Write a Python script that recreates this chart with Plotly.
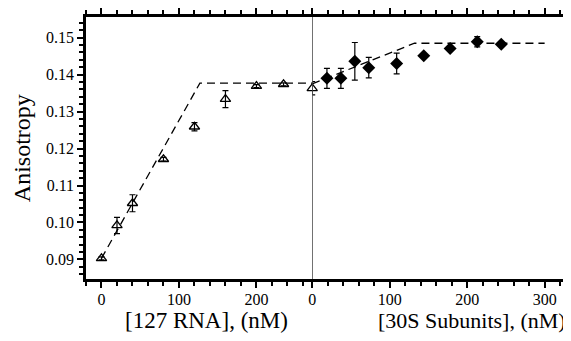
import plotly.graph_objects as go

# ---- data ----
rna_x = [0, 20, 40, 80, 120, 160, 200, 235]
rna_y = [0.0903, 0.0992, 0.1052, 0.1171, 0.1259, 0.1334, 0.1369, 0.1374]
rna_err = [0.0004, 0.0022, 0.0023, 0.0005, 0.0011, 0.0023, 0.0004, 0.0004]

start_x = [0]
start_y = [0.1363]
start_err = [0.0018]

s30_x = [19, 37, 55, 73, 109, 144, 178, 213, 244]
s30_y = [0.1390, 0.1390, 0.1436, 0.1419, 0.1430, 0.1451, 0.1471, 0.1489, 0.1482]
s30_err = [0.0027, 0.0027, 0.0051, 0.0028, 0.0028, 0.0005, 0.0005, 0.0014, 0.0004]

fit_rna_x = [0, 127, 272]
fit_rna_y = [0.0903, 0.1377, 0.1377]
fit_30s_x = [0, 132, 300]
fit_30s_y = [0.1375, 0.1485, 0.1485]

x_left_range = [-20, 272]
x_right_range = [0, 325]
y_range = [0.0847, 0.1556]

x_left_major = [0, 100, 200]
x_right_major = [0, 100, 200, 300]
y_major = [0.09, 0.10, 0.11, 0.12, 0.13, 0.14, 0.15]
y_major_labels = ["0.09", "0.10", "0.11", "0.12", "0.13", "0.14", "0.15"]

FONT = "Liberation Serif"
split = (x_left_range[1] - x_left_range[0]) / (
    (x_left_range[1] - x_left_range[0]) + (x_right_range[1] - x_right_range[0]))


def dense_ticks(lo, hi, step, majors, labels=None):
    vals, texts = [], []
    n = int(round((hi - lo) / step))
    for i in range(n + 1):
        v = round(lo + i * step, 6)
        vals.append(v)
        lab = ""
        for m, t in zip(majors, labels if labels else [str(m) for m in majors]):
            if abs(m - v) < step / 10:
                lab = t
        texts.append(lab)
    return vals, texts


xl_vals, xl_text = dense_ticks(-20, 260, 20, x_left_major)
xr_vals, xr_text = dense_ticks(0, 320, 20, x_right_major)
y_vals, y_text = dense_ticks(0.086, 0.154, 0.002, y_major, y_major_labels)

fig = go.Figure()

dash = "8px,5px"
fig.add_trace(go.Scatter(x=fit_rna_x, y=fit_rna_y, mode="lines",
                         line=dict(color="black", width=1.3, dash=dash),
                         xaxis="x", yaxis="y", hoverinfo="skip"))
fig.add_trace(go.Scatter(x=fit_30s_x, y=fit_30s_y, mode="lines",
                         line=dict(color="black", width=1.3, dash=dash),
                         xaxis="x2", yaxis="y2", hoverinfo="skip", cliponaxis=False))

tri = dict(symbol="triangle-up-open", size=9, color="black", line=dict(width=1.3, color="black"))
fig.add_trace(go.Scatter(x=rna_x, y=rna_y, mode="markers", marker=tri,
                         error_y=dict(type="data", array=rna_err, color="black", thickness=1.2, width=3),
                         xaxis="x", yaxis="y", cliponaxis=False))
fig.add_trace(go.Scatter(x=start_x, y=start_y, mode="markers", marker=tri,
                         error_y=dict(type="data", array=start_err, color="black", thickness=1.2, width=3),
                         xaxis="x2", yaxis="y2", cliponaxis=False))
fig.add_trace(go.Scatter(x=s30_x, y=s30_y, mode="markers",
                         marker=dict(symbol="diamond", size=10, color="black"),
                         error_y=dict(type="data", array=s30_err, color="black", thickness=1.2, width=3),
                         xaxis="x2", yaxis="y2", cliponaxis=False))

# invisible traces so the overlay (major tick) axes render
fig.add_trace(go.Scatter(x=[0], y=[0.12], mode="markers", marker=dict(opacity=0),
                         xaxis="x3", yaxis="y3", hoverinfo="skip"))
fig.add_trace(go.Scatter(x=[100], y=[0.12], mode="markers", marker=dict(opacity=0),
                         xaxis="x4", yaxis="y4", hoverinfo="skip"))

tickfont = dict(family=FONT, size=16, color="black")
base = dict(showgrid=False, zeroline=False, automargin=False)
main_x = dict(showline=True, linecolor="black", linewidth=2.5, mirror="ticks",
              ticks="outside", ticklen=4, tickwidth=2, tickcolor="black",
              tickmode="array", tickfont=tickfont, ticklabelstandoff=0, **base)
outer_x = dict(showline=False, mirror="ticks", ticks="outside", ticklen=8, tickwidth=2,
               tickcolor="black", tickmode="array", showticklabels=False, **base)
main_y = dict(showline=True, linecolor="black", linewidth=2.5,
              ticks="outside", ticklen=4, tickwidth=2, tickcolor="black",
              tickmode="array", tickvals=y_vals, ticktext=y_text, range=y_range, **base)
outer_y = dict(showline=False, ticks="outside", ticklen=8, tickwidth=2, tickcolor="black",
               tickmode="array", tickvals=y_major, range=y_range, showticklabels=False, **base)

# the page body adds an 8px offset; size the figure so the whole page is 571x341
fig.update_layout(
    template="none",
    width=563, height=333,
    margin=dict(l=78, r=7, t=9, b=62, pad=0),
    paper_bgcolor="white", plot_bgcolor="rgba(0,0,0,0)",
    showlegend=False,
    font=dict(family=FONT, color="black"),
    xaxis=dict(domain=[0, split], range=x_left_range, anchor="y",
               tickvals=xl_vals, ticktext=xl_text, **main_x),
    xaxis2=dict(domain=[split, 1], range=x_right_range, anchor="y2",
                tickvals=xr_vals, ticktext=xr_text, **main_x),
    xaxis3=dict(overlaying="x", range=x_left_range, anchor="y", tickvals=x_left_major, **outer_x),
    xaxis4=dict(overlaying="x2", range=x_right_range, anchor="y2", tickvals=x_right_major, **outer_x),
    yaxis=dict(anchor="x", side="left", tickfont=tickfont, ticklabelstandoff=2, **main_y),
    yaxis2=dict(anchor="x2", side="right", showticklabels=False, **main_y),
    yaxis3=dict(overlaying="y", anchor="x", side="left", **outer_y),
    yaxis4=dict(overlaying="y2", anchor="x2", side="right", **outer_y),
    shapes=[dict(type="line", xref="x2", yref="paper", x0=0, x1=0, y0=0, y1=1,
                 line=dict(color="#444444", width=1.5))],
    annotations=[
        dict(text="Anisotropy", xref="paper", yref="paper", x=-0.1335, y=0.5,
             textangle=-90, showarrow=False, xanchor="center", yanchor="middle",
             font=dict(family=FONT, size=24, color="black")),
        dict(text="[127 RNA], (nM)", xref="paper", yref="paper", x=0.2531, y=-0.16,
             showarrow=False, xanchor="center", yanchor="middle",
             font=dict(family=FONT, size=23, color="black")),
        dict(text="[30S Subunits], (nM)", xref="paper", yref="paper", x=0.8065, y=-0.16,
             showarrow=False, xanchor="center", yanchor="middle",
             font=dict(family=FONT, size=22, color="black")),
    ],
)

fig.write_html("out.html")
